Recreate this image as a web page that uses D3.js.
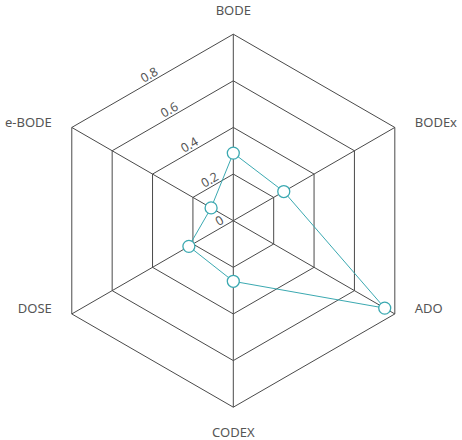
<!DOCTYPE html>
<html>
<head>
<meta charset="utf-8">
<script src="https://cdn.jsdelivr.net/npm/d3@7"></script>
<style>
  body { margin: 0; background: #fff; }
  text { font-family: "Noto Sans", "Open Sans", sans-serif; fill: #555; }
</style>
</head>
<body>
<div id="chart"></div>
<script>
// axes clockwise from the top
const axes = ["BODE", "BODEx", "ADO", "CODEX", "DOSE", "e-BODE"];
const values = [0.29, 0.25, 0.75, 0.26, 0.22, 0.11];
const ringTicks = [0.2, 0.4, 0.6, 0.8];
const tickLabels = [0, 0.2, 0.4, 0.6, 0.8];

const width = 462, height = 440;
const cx = 233.3, cy = 220.7, R = 186.5;

const svg = d3.select("#chart").append("svg")
    .attr("width", width)
    .attr("height", height);

const r = d3.scaleLinear().domain([0, 0.8]).range([0, R]);
const angle = d3.scalePoint().domain(axes).range([0, 2 * Math.PI * 5 / 6]);

const g = svg.append("g").attr("transform", `translate(${cx},${cy})`);

const pt = (name, v) => {
    const a = angle(name);
    return [r(v) * Math.sin(a), -r(v) * Math.cos(a)];
};

// rings
const ring = d3.line().curve(d3.curveLinearClosed);
g.selectAll(".ring")
    .data(ringTicks)
    .enter()
    .append("path")
    .attr("class", "ring")
    .attr("d", (t) => ring(axes.map((a) => pt(a, t))))
    .attr("fill", "none")
    .attr("stroke", "#4a4a4a")
    .attr("stroke-width", 1);

// spokes
g.selectAll(".spoke")
    .data(axes)
    .enter()
    .append("line")
    .attr("class", "spoke")
    .attr("x1", 0).attr("y1", 0)
    .attr("x2", (a) => pt(a, 0.8)[0])
    .attr("y2", (a) => pt(a, 0.8)[1])
    .attr("stroke", "#4a4a4a")
    .attr("stroke-width", 1);

// axis labels
g.selectAll(".axis-label")
    .data(axes)
    .enter()
    .append("text")
    .attr("class", "axis-label")
    .attr("x", (a) => {
        const [x] = pt(a, 0.8);
        return Math.abs(x) < 1 ? x : x + Math.sign(x) * 20;
    })
    .attr("y", (a) => {
        const [x, y] = pt(a, 0.8);
        if (Math.abs(x) < 1) return y < 0 ? y - 24.5 : y + 25;
        return y - 5.5;
    })
    .attr("dominant-baseline", "central")
    .attr("text-anchor", (a) => {
        const [x] = pt(a, 0.8);
        return Math.abs(x) < 1 ? "middle" : (x > 0 ? "start" : "end");
    })
    .attr("font-size", 13)
    .text((a) => a);

// tick labels along the BODE / e-BODE edge
g.selectAll(".tick-label")
    .data(tickLabels)
    .enter()
    .append("text")
    .attr("class", "tick-label")
    .attr("transform", (t) => {
        const p1 = pt(axes[0], t), p2 = pt(axes[5], t);
        const mx = (p1[0] + p2[0]) / 2, my = (p1[1] + p2[1]) / 2;
        return `translate(${mx},${my}) rotate(-30)`;
    })
    .attr("x", (t) => (t === 0 ? -12 : 0))
    .attr("y", -7)
    .attr("text-anchor", "middle")
    .attr("dominant-baseline", "central")
    .attr("font-size", 12.5)
    .text((t) => t);

// data polygon
const pts = axes.map((a, i) => pt(a, values[i]));
g.append("path")
    .attr("d", ring(pts))
    .attr("fill", "none")
    .attr("stroke", "#3ba9b1")
    .attr("stroke-width", 1);

g.selectAll(".dot")
    .data(pts)
    .enter()
    .append("circle")
    .attr("class", "dot")
    .attr("cx", (d) => d[0])
    .attr("cy", (d) => d[1])
    .attr("r", 6)
    .attr("fill", "#fff")
    .attr("stroke", "#3ba9b1")
    .attr("stroke-width", 1.3);
</script>
</body>
</html>
